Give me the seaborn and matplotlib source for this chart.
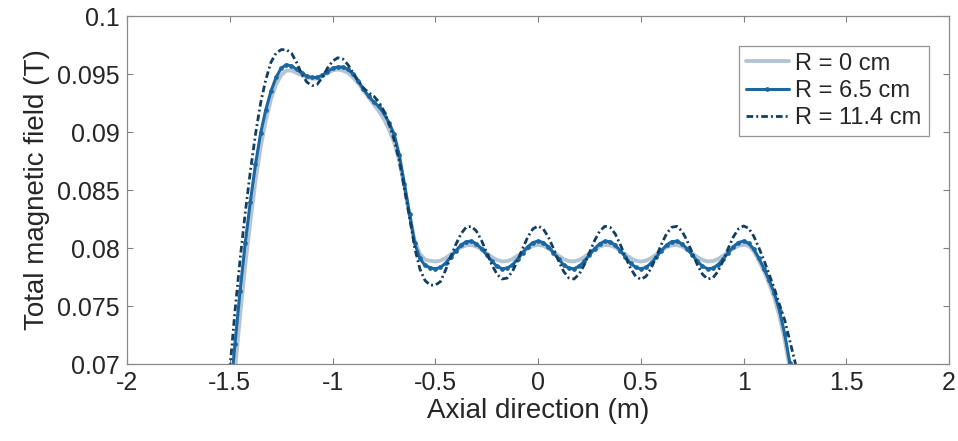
import numpy as np
import pandas as pd
import matplotlib
matplotlib.use("Agg")
import matplotlib.pyplot as plt
import seaborn as sns

# Axial sample positions (m)
axial_m = [
    -1.500, -1.475, -1.450, -1.425, -1.400, -1.375, -1.350, -1.325, -1.300, -1.275,
    -1.250, -1.225, -1.200, -1.175, -1.150, -1.125, -1.100, -1.075, -1.050, -1.025,
    -1.000, -0.975, -0.950, -0.925, -0.900, -0.875, -0.850, -0.825, -0.800, -0.775,
    -0.750, -0.725, -0.700, -0.675, -0.650, -0.625, -0.600, -0.575, -0.550, -0.525,
    -0.500, -0.475, -0.450, -0.425, -0.400, -0.375, -0.350, -0.325, -0.300, -0.275,
    -0.250, -0.225, -0.200, -0.175, -0.150, -0.125, -0.100, -0.075, -0.050, -0.025,
    0.000, 0.025, 0.050, 0.075, 0.100, 0.125, 0.150, 0.175, 0.200, 0.225,
    0.250, 0.275, 0.300, 0.325, 0.350, 0.375, 0.400, 0.425, 0.450, 0.475,
    0.500, 0.525, 0.550, 0.575, 0.600, 0.625, 0.650, 0.675, 0.700, 0.725,
    0.750, 0.775, 0.800, 0.825, 0.850, 0.875, 0.900, 0.925, 0.950, 0.975,
    1.000, 1.025, 1.050, 1.075, 1.100, 1.125, 1.150, 1.175, 1.200, 1.225,
    1.250, 1.275,
]

# Total magnetic field (T) on axis, R = 0 cm
field_r0 = [
    0.0645, 0.0694, 0.0742, 0.0785, 0.0823, 0.0858, 0.0887, 0.0910, 0.0928, 0.0941,
    0.0949, 0.0953, 0.0953, 0.0951, 0.0949, 0.0947, 0.0946, 0.0946, 0.0948, 0.0951,
    0.0953, 0.0954, 0.0953, 0.0951, 0.0947, 0.0942, 0.0936, 0.0930, 0.0924, 0.0918,
    0.0911, 0.0902, 0.0891, 0.0875, 0.0852, 0.0828, 0.0806, 0.0795, 0.0790, 0.0789,
    0.07883, 0.07891, 0.07913, 0.07944, 0.07977, 0.08006, 0.08023, 0.08026, 0.08013, 0.07988,
    0.07955, 0.07922, 0.07897, 0.07884, 0.07887, 0.07904, 0.07933, 0.07966, 0.07997, 0.08019,
    0.08027, 0.08019, 0.07997, 0.07966, 0.07933, 0.07904, 0.07887, 0.07884, 0.07897, 0.07922,
    0.07955, 0.07988, 0.08013, 0.08026, 0.08023, 0.08006, 0.07977, 0.07944, 0.07913, 0.07891,
    0.07883, 0.07891, 0.07913, 0.07944, 0.07977, 0.08006, 0.08023, 0.08026, 0.08013, 0.07988,
    0.07955, 0.07922, 0.07897, 0.07884, 0.07887, 0.07904, 0.07933, 0.07966, 0.07997, 0.08019,
    0.08027, 0.0802, 0.0797, 0.0789, 0.0780, 0.0769, 0.0757, 0.0741, 0.0721, 0.0696,
    0.0668, 0.0640,
]

# R = 6.5 cm
field_r65 = [
    0.0668, 0.0717, 0.0763, 0.0804, 0.0840, 0.0872, 0.0899, 0.0919, 0.0935, 0.0947,
    0.0955, 0.0958, 0.0957, 0.0954, 0.0951, 0.0948, 0.0947, 0.0947, 0.0949, 0.0952,
    0.0955, 0.0956, 0.0956, 0.0954, 0.0950, 0.0944, 0.0937, 0.0931, 0.0926, 0.0922,
    0.0916, 0.0908, 0.0898, 0.0880, 0.0855, 0.0829, 0.0804, 0.0791, 0.0785, 0.0783,
    0.0782, 0.07833, 0.07869, 0.07921, 0.07977, 0.08025, 0.08054, 0.08059, 0.08037, 0.07994,
    0.0794, 0.07886, 0.07843, 0.07821, 0.07826, 0.07855, 0.07903, 0.07959, 0.08011, 0.08047,
    0.0806, 0.08047, 0.08011, 0.07959, 0.07903, 0.07855, 0.07826, 0.07821, 0.07843, 0.07886,
    0.0794, 0.07994, 0.08037, 0.08059, 0.08054, 0.08025, 0.07977, 0.07921, 0.07869, 0.07833,
    0.0782, 0.07833, 0.07869, 0.07921, 0.07977, 0.08025, 0.08054, 0.08059, 0.08037, 0.07994,
    0.0794, 0.07886, 0.07843, 0.07821, 0.07826, 0.07855, 0.07903, 0.07959, 0.08011, 0.08047,
    0.0806, 0.0804, 0.0799, 0.0791, 0.0782, 0.0772, 0.0761, 0.0746, 0.0726, 0.0701,
    0.0674, 0.0646,
]

# R = 11.4 cm
field_r114 = [
    0.0695, 0.0745, 0.0790, 0.0830, 0.0866, 0.0898, 0.0925, 0.0945, 0.0960, 0.0968,
    0.0971, 0.0971, 0.0968, 0.0960, 0.0950, 0.0943, 0.0940, 0.0941, 0.0947, 0.0955,
    0.0961, 0.0964, 0.0963, 0.0958, 0.0951, 0.0944, 0.0938, 0.0934, 0.0931, 0.0926,
    0.0918, 0.0907, 0.0893, 0.0875, 0.0851, 0.0826, 0.0800, 0.0782, 0.0772, 0.0768,
    0.0768, 0.0771, 0.0781, 0.07924, 0.08031, 0.08123, 0.08179, 0.08187, 0.08146, 0.08064,
    0.0796, 0.07856, 0.07774, 0.07733, 0.07741, 0.07797, 0.07889, 0.07996, 0.08095, 0.08165,
    0.0819, 0.08165, 0.08095, 0.07996, 0.07889, 0.07797, 0.07741, 0.07733, 0.07774, 0.07856,
    0.0796, 0.08064, 0.08146, 0.08187, 0.08179, 0.08123, 0.08031, 0.07924, 0.07825, 0.07755,
    0.0773, 0.07755, 0.07825, 0.07924, 0.08031, 0.08123, 0.08179, 0.08187, 0.08146, 0.08064,
    0.0796, 0.07856, 0.07774, 0.07733, 0.07741, 0.07797, 0.07889, 0.07996, 0.08095, 0.08165,
    0.0819, 0.0817, 0.0810, 0.0800, 0.0789, 0.0777, 0.0765, 0.0751, 0.0738, 0.0720,
    0.0702, 0.0680,
]

series_labels = ["R = 0 cm", "R = 6.5 cm", "R = 11.4 cm"]
x_ticks = [-2, -1.5, -1, -0.5, 0, 0.5, 1, 1.5, 2]
y_ticks = [0.07, 0.075, 0.08, 0.085, 0.09, 0.095, 0.1]
x_tick_labels = ["-2", "-1.5", "-1", "-0.5", "0", "0.5", "1", "1.5", "2"]
y_tick_labels = ["0.07", "0.075", "0.08", "0.085", "0.09", "0.095", "0.1"]

sns.set_style("ticks")
plt.rcParams["font.family"] = ["Liberation Sans", "DejaVu Sans"]

fig = plt.figure(figsize=(9.58, 4.41), dpi=100)
ax = fig.add_axes([0.1326, 0.1746, 0.8581, 0.7891])

styles = [
    dict(color="#b3c5d4", linewidth=2.8, linestyle="-"),
    dict(color="#1b67a2", linewidth=2.2, linestyle="-", marker="o", markersize=3.4,
         markeredgewidth=0),
    dict(color="#123e61", linewidth=2.0, linestyle=(0, (2.4, 1.1, 0.7, 1.1))),
]
for field, label, st in zip([field_r0, field_r65, field_r114], series_labels, styles):
    sns.lineplot(x=axial_m, y=field, ax=ax, label=label, sort=False, **st)

ax.set_xlim(-2, 2)
ax.set_ylim(0.07, 0.1)
ax.set_xticks(x_ticks)
ax.set_xticklabels(x_tick_labels)
ax.set_yticks(y_ticks)
ax.set_yticklabels(y_tick_labels)
ax.tick_params(direction="in", length=4.5, width=0.8, color="#808080",
               labelsize=18, top=True, right=True, pad=5)
for s in ax.spines.values():
    s.set_color("#8a8a8a")
    s.set_linewidth(0.9)
ax.set_xlabel("Axial direction (m)", fontsize=20, labelpad=2)
ax.set_ylabel("Total magnetic field (T)", fontsize=20, labelpad=5)

leg = ax.legend(loc="upper right", bbox_to_anchor=(0.975, 0.915), borderaxespad=0,
                fontsize=17, frameon=True, fancybox=False, handlelength=1.85,
                handletextpad=0.25, borderpad=0.3, labelspacing=0.22)
leg.get_frame().set_edgecolor("#7a7a7a")
leg.get_frame().set_linewidth(0.9)

fig.savefig("out.png", dpi=100)
